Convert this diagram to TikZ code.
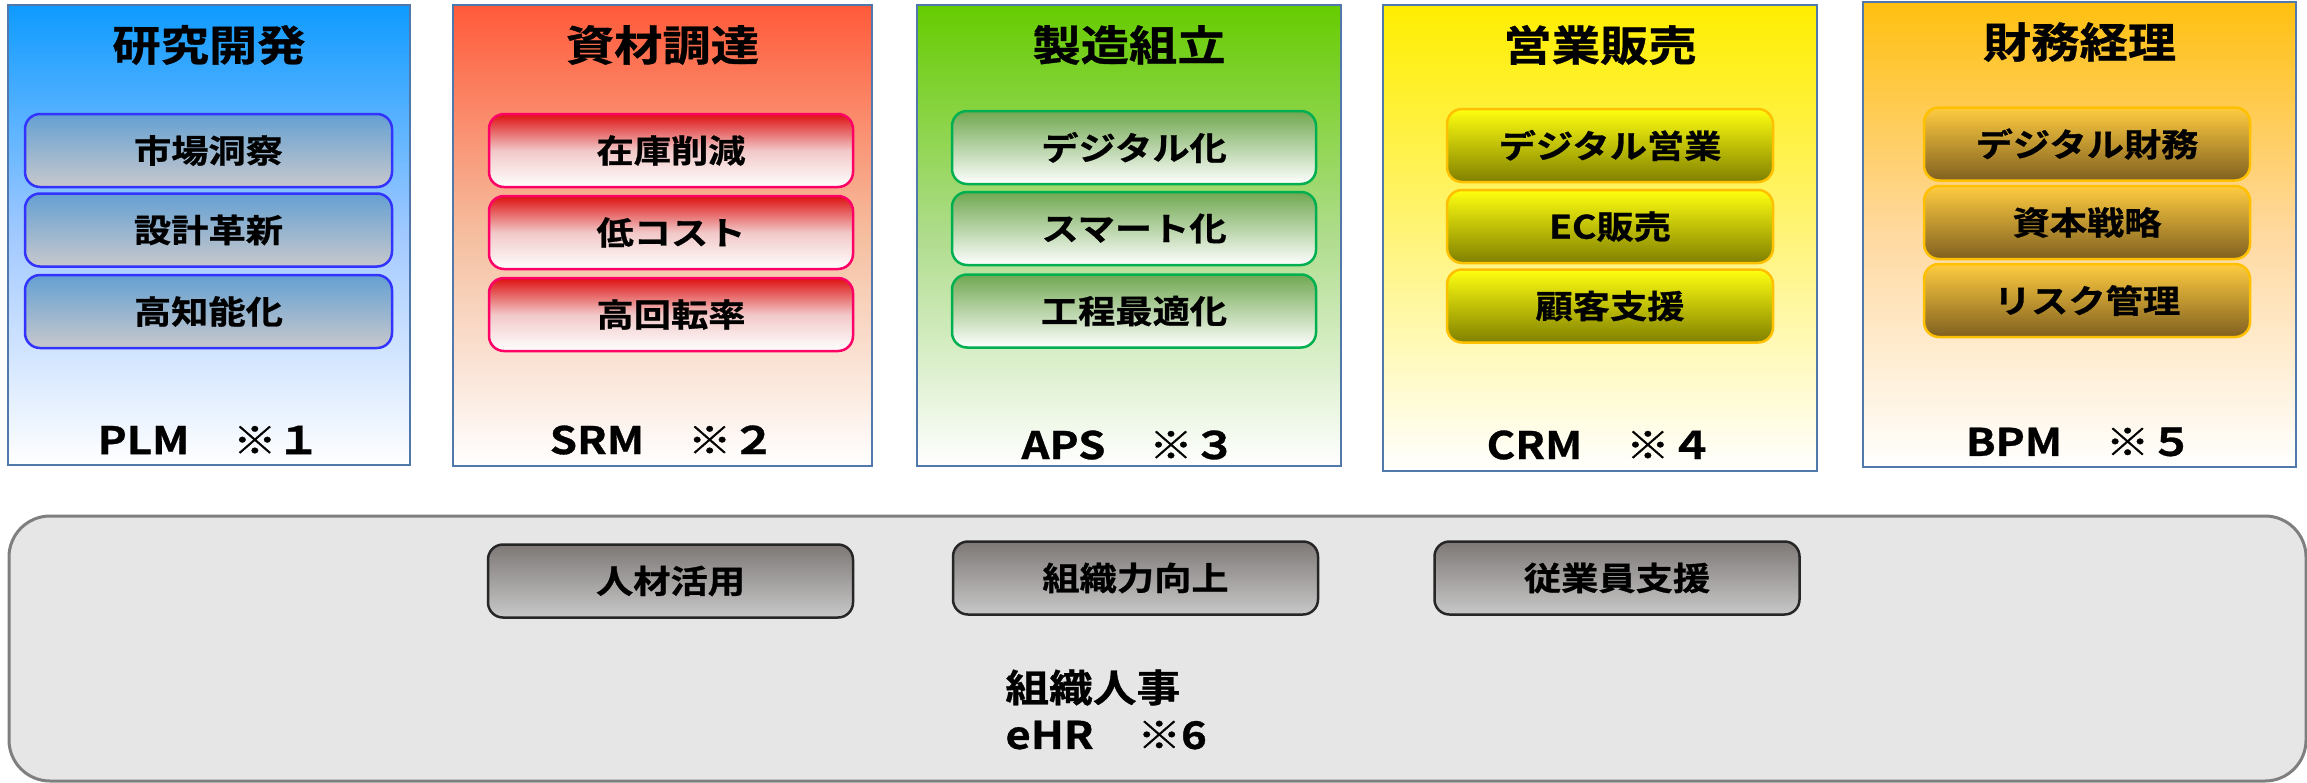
\documentclass[tikz,border=0pt]{standalone}
\usepackage{fontspec}
\setmainfont{Noto Sans CJK JP}[BoldFont={Noto Sans CJK JP Bold},FakeStretch=1.15,BoldFeatures={FakeBold=0.8}]
\usetikzlibrary{shadings}

\begin{document}
\begin{tikzpicture}[x=0.5pt,y=-0.5pt]
\definecolor{frame}{HTML}{5078AA}
\definecolor{rdtop}{HTML}{0E9BFF}
\definecolor{rdmid}{HTML}{A2C9FF}
\definecolor{prtop}{HTML}{FF5A3A}
\definecolor{prmid}{HTML}{F5BFA0}
\definecolor{mftop}{HTML}{66CC00}
\definecolor{mfmid}{HTML}{AFDC8C}
\definecolor{sltop}{HTML}{FFEE00}
\definecolor{slmid}{HTML}{FFF47A}
\definecolor{fntop}{HTML}{FFC010}
\definecolor{fnmid}{HTML}{FFD9A0}
\tikzset{
  column/.style={draw=frame,line width=1pt,inner sep=0pt},
  heading/.style={font=\fontsize{21pt}{24pt}\selectfont\bfseries},
  footer/.style={font=\fontsize{19pt}{22pt}\selectfont\bfseries},
  item/.style={rounded corners=7.5pt,line width=1.25pt,minimum height=36.5pt,inner sep=0pt,
    font=\fontsize{16.2pt}{18pt}\selectfont\bfseries},
  rdcol/.style={top color=rdtop,bottom color=white,middle color=rdmid},
  prcol/.style={top color=prtop,bottom color=white,middle color=prmid},
  mfcol/.style={top color=mftop,bottom color=white,middle color=mfmid},
  slcol/.style={top color=sltop,bottom color=white,middle color=slmid},
  fncol/.style={top color=fntop,bottom color=white,middle color=fnmid},
  rditem/.style={draw={rgb,255:red,51;green,51;blue,255},top color={rgb,255:red,100;green,160;blue,210},
    bottom color={rgb,255:red,200;green,200;blue,204}},
  pritem/.style={draw={rgb,255:red,255;green,0;blue,102},top color={rgb,255:red,221;green,17;blue,17},
    bottom color=white,middle color={rgb,255:red,242;green,200;blue,200}},
  mfitem/.style={draw={rgb,255:red,0;green,176;blue,80},top color={rgb,255:red,112;green,168;blue,80},
    bottom color=white},
  slitem/.style={draw={rgb,255:red,255;green,192;blue,0},top color={rgb,255:red,255;green,255;blue,16},
    bottom color={rgb,255:red,128;green,128;blue,0}},
  fnitem/.style={draw={rgb,255:red,255;green,192;blue,0},top color={rgb,255:red,255;green,204;blue,64},
    bottom color={rgb,255:red,128;green,96;blue,32}},
  hritem/.style={draw={rgb,255:red,38;green,38;blue,38},top color={rgb,255:red,125;green,120;blue,118},
    bottom color={rgb,255:red,200;green,200;blue,200}},
  panel/.style={draw={rgb,255:red,127;green,127;blue,127},fill={rgb,255:red,230;green,230;blue,230},
    line width=1.5pt,rounded corners=20.5pt,inner sep=0pt},
  panellabel/.style={font=\fontsize{19pt}{23.5pt}\selectfont\bfseries,align=left,inner sep=0pt},
}
\useasboundingbox (0,0) rectangle (2307,782);

% the five department columns
\foreach \id/\xc/\yc/\w/\h/\sty/\head/\yh/\foot/\yf in {
  rd/209/235/402/460/rdcol/研究開発/45/PLM　※１/440,
  pr/662.5/235.5/419/461/prcol/資材調達/45/SRM　※２/440,
  mf/1129/235.5/424/461/mfcol/製造組立/45/APS　※３/445,
  sl/1600/238/434/466/slcol/営業販売/45/CRM　※４/445,
  fn/2079.5/234.5/433/465/fncol/財務経理/42/BPM　※５/442}
{
  \node[column,\sty,minimum width=\w*0.5pt,minimum height=\h*0.5pt] (\id) at (\xc,\yc) {};
  \node[heading] (\id-head) at (\xc,\yh) {\head};
  \node[footer] (\id-foot) at (\xc,\yf) {\foot};
}

% three topics in each column
\foreach \id/\xc/\w/\sty/\items in {
  rd/208.5/367/rditem/{150.5/市場洞察,230/設計革新,311.5/高知能化},
  pr/671/364/pritem/{150.5/在庫削減,232.5/低コスト,314.5/高回転率},
  mf/1134/364/mfitem/{147.5/デジタル化,228.5/スマート化,311/工程最適化},
  sl/1610/326/slitem/{145.5/デジタル営業,226.5/EC販売,306/顧客支援},
  fn/2087/326/fnitem/{144/デジタル財務,222.5/資本戦略,300.5/リスク管理}}
{
  \foreach \yy/\txt [count=\k] in \items
    \node[item,\sty,minimum width=\w*0.5pt] (\id-\k) at (\xc,\yy) {\txt};
}

% the HR base underneath
\node[panel,minimum width=2297*0.5pt,minimum height=265*0.5pt] (hr) at (1157.5,648.5) {};
\foreach \xx/\yy/\txt [count=\k] in {670.5/581/人材活用,1135.5/578/組織力向上,1617/578/従業員支援}
  \node[item,hritem,minimum width=365*0.5pt] (hr-\k) at (\xx,\yy) {\txt};
\node[panellabel,anchor=west] (hr-label) at (1005,709.5) {組織人事\\eHR　※6};
\end{tikzpicture}
\end{document}
